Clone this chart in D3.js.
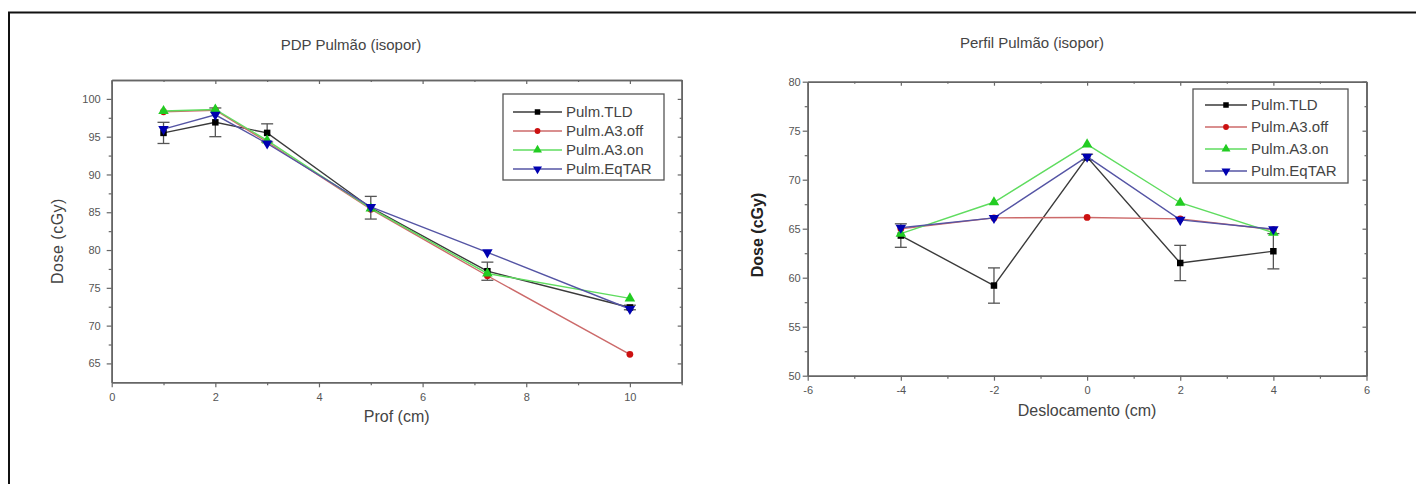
<!DOCTYPE html>
<html>
<head>
<meta charset="utf-8">
<script src="https://cdn.jsdelivr.net/npm/d3@7"></script>
<style>
  body { margin: 0; background: #fff; }
  text { font-family: "Liberation Sans", Arial, sans-serif; }
</style>
</head>
<body>
<script>
// series names shared by both panels
const seriesNames = ['Pulm.TLD', 'Pulm.A3.off', 'Pulm.A3.on', 'Pulm.EqTAR'];

// PDP panel (depth)
const profX = [1, 2, 3, 5, 7.25, 10];
const profTLD = [95.5, 96.9, 95.5, 85.6, 77.2, 72.4];
const profTLDErr = [1.4, 1.9, 1.2, 1.5, 1.2, 0.3];
const profA3off = [98.3, 98.5, 94.3, 85.4, 76.6, 66.2];
const profA3on = [98.4, 98.6, 94.5, 85.5, 76.9, 73.6];
const profEqTAR = [96.0, 97.9, 94.1, 85.7, 79.7, 72.2];
const profXTicks = [0, 2, 4, 6, 8, 10];
const profYTicks = [65, 70, 75, 80, 85, 90, 95, 100];

// Perfil panel (offset)
const deslX = [-4, -2, 0, 2, 4];
const deslTLD = [64.3, 59.2, 72.3, 61.5, 62.7];
const deslTLDErr = [1.2, 1.8, 0.3, 1.8, 1.8];
const deslA3off = [65.0, 66.1, 66.15, 66.0, 64.9];
const deslA3on = [64.5, 67.7, 73.6, 67.65, 64.6];
const deslEqTAR = [65.1, 66.1, 72.35, 65.9, 64.95];
const deslXTicks = [-6, -4, -2, 0, 2, 4, 6];
const deslYTicks = [50, 55, 60, 65, 70, 75, 80];

const styles = [
    { line: '#3a3a3a', fill: '#000', marker: 'square' },
    { line: '#cc6a6a', fill: '#cc1111', marker: 'circle' },
    { line: '#5fdc5f', fill: '#22cc22', marker: 'up' },
    { line: '#5454a4', fill: '#0000b0', marker: 'down' }
];

const svg = d3.select('body').append('svg')
    .attr('width', 1416)
    .attr('height', 484);

svg.append('rect').attr('width', 1416).attr('height', 484).attr('fill', '#fff');

// outer frame
svg.append('path')
    .attr('d', 'M9,484 L9,12.5 L1416,12.5')
    .attr('fill', 'none')
    .attr('stroke', '#111')
    .attr('stroke-width', 2);

function symbolFor(kind) {
    if (kind === 'square') return d3.symbol(d3.symbolSquare, 42)();
    if (kind === 'circle') return d3.symbol(d3.symbolCircle, 36)();
    return d3.symbol(d3.symbolTriangle, 48)();
}

// plain hyphen for negatives, like the original
const tickFmt = d => String(d);

function drawPanel(p) {
    const x = d3.scaleLinear().domain(p.xDomain).range([p.left, p.right]);
    const y = d3.scaleLinear().domain(p.yDomain).range([p.bottom, p.top]);
    const g = svg.append('g');

    const axisColor = '#666';
    const styleAxis = sel => {
        sel.select('.domain').attr('stroke', axisColor).attr('stroke-width', 1.6);
        sel.selectAll('.tick line').attr('stroke', axisColor).attr('stroke-width', 1.2);
        sel.selectAll('.tick text').attr('fill', '#555')
            .style('font-size', '11px')
            .style('font-family', '"Liberation Sans", Arial, sans-serif');
    };

    // bottom axis, major + minor
    g.append('g').attr('transform', `translate(0,${p.bottom})`)
        .call(d3.axisBottom(x).tickValues(p.xTicks).tickFormat(tickFmt).tickSize(5).tickPadding(6).tickSizeOuter(0))
        .call(styleAxis);
    g.append('g').attr('transform', `translate(0,${p.bottom})`)
        .call(d3.axisBottom(x).tickValues(p.xMinor).tickSize(3).tickFormat('').tickSizeOuter(0))
        .call(styleAxis);
    // top mirror
    g.append('g').attr('transform', `translate(0,${p.top})`)
        .call(d3.axisBottom(x).tickValues(p.xTicks).tickSize(4).tickFormat('').tickSizeOuter(0))
        .call(styleAxis);
    g.append('g').attr('transform', `translate(0,${p.top})`)
        .call(d3.axisTop(x).tickValues(p.xMinor).tickSize(-2).tickFormat('').tickSizeOuter(0))
        .call(styleAxis);

    // left axis
    g.append('g').attr('transform', `translate(${p.left},0)`)
        .call(d3.axisLeft(y).tickValues(p.yTicks).tickFormat(tickFmt).tickSize(5).tickPadding(p.yPad).tickSizeOuter(0))
        .call(styleAxis);
    g.append('g').attr('transform', `translate(${p.left},0)`)
        .call(d3.axisLeft(y).tickValues(p.yMinor).tickSize(3).tickFormat('').tickSizeOuter(0))
        .call(styleAxis);
    // right mirror
    g.append('g').attr('transform', `translate(${p.right},0)`)
        .call(d3.axisLeft(y).tickValues(p.yTicks).tickSize(4).tickFormat('').tickSizeOuter(0))
        .call(styleAxis);
    g.append('g').attr('transform', `translate(${p.right},0)`)
        .call(d3.axisLeft(y).tickValues(p.yMinor).tickSize(2).tickFormat('').tickSizeOuter(0))
        .call(styleAxis);

    // titles
    g.append('text')
        .attr('x', p.titleX).attr('y', p.titleY)
        .attr('text-anchor', 'middle')
        .attr('fill', '#444')
        .style('font-size', '15px')
        .text(p.title);
    g.append('text')
        .attr('x', (p.left + p.right) / 2).attr('y', p.bottom + 40)
        .attr('text-anchor', 'middle')
        .attr('fill', '#444')
        .style('font-size', '16px')
        .text(p.xLabel);
    g.append('text')
        .attr('transform', `translate(${p.yLabelX},${p.yLabelY}) rotate(-90)`)
        .attr('text-anchor', 'middle')
        .attr('fill', p.yBold ? '#222' : '#444')
        .style('font-size', '16px')
        .style('font-weight', p.yBold ? 'bold' : 'normal')
        .style('letter-spacing', p.yBold ? '0px' : '0.5px')
        .text(p.yLabel);

    // error bars for TLD
    const cap = 6;
    const err = g.append('g').attr('stroke', '#555').attr('stroke-width', 1.3);
    p.xs.forEach((xv, i) => {
        const v = p.series[0][i], e = p.err[i];
        err.append('line').attr('x1', x(xv)).attr('x2', x(xv)).attr('y1', y(v - e)).attr('y2', y(v + e));
        err.append('line').attr('x1', x(xv) - cap).attr('x2', x(xv) + cap).attr('y1', y(v - e)).attr('y2', y(v - e));
        err.append('line').attr('x1', x(xv) - cap).attr('x2', x(xv) + cap).attr('y1', y(v + e)).attr('y2', y(v + e));
    });

    const line = d3.line().x(d => x(d[0])).y(d => y(d[1]));
    p.series.forEach((vals, si) => {
        const pts = p.xs.map((xv, i) => [xv, vals[i]]);
        const st = styles[si];
        g.append('path')
            .attr('d', line(pts))
            .attr('fill', 'none')
            .attr('stroke', st.line)
            .attr('stroke-width', 1.4);
        g.selectAll(null).data(pts).join('path')
            .attr('d', symbolFor(st.marker))
            .attr('transform', d => `translate(${x(d[0])},${y(d[1])})${st.marker === 'down' ? ' rotate(180)' : ''}`)
            .attr('fill', st.fill);
    });

    // legend
    const lg = g.append('g');
    lg.append('rect')
        .attr('x', p.legend.x).attr('y', p.legend.y)
        .attr('width', p.legend.w).attr('height', p.legend.h)
        .attr('fill', '#fff')
        .attr('stroke', '#555')
        .attr('stroke-width', 1.3);
    seriesNames.forEach((name, si) => {
        const st = styles[si];
        const cy = p.legend.y + p.legend.first + si * p.legend.step;
        const x0 = p.legend.x + p.legend.lineStart;
        const x1 = x0 + p.legend.lineLen;
        lg.append('line')
            .attr('x1', x0).attr('x2', x1).attr('y1', cy).attr('y2', cy)
            .attr('stroke', st.line).attr('stroke-width', 1.4);
        lg.append('path')
            .attr('d', symbolFor(st.marker))
            .attr('transform', `translate(${(x0 + x1) / 2},${cy})${st.marker === 'down' ? ' rotate(180)' : ''} scale(0.85)`)
            .attr('fill', st.fill);
        lg.append('text')
            .attr('x', x1 + 4).attr('y', cy + 5)
            .attr('fill', '#444')
            .style('font-size', '15px')
            .text(name);
    });
}

drawPanel({
    left: 111.7, right: 681.7, top: 80, bottom: 382.3,
    xDomain: [0, 11], yDomain: [62.5, 102.5],
    xTicks: profXTicks, xMinor: [1, 3, 5, 7, 9, 11],
    yTicks: profYTicks, yMinor: [67.5, 72.5, 77.5, 82.5, 87.5, 92.5, 97.5],
    yPad: 6,
    title: 'PDP Pulmão (isopor)', titleX: 351, titleY: 50,
    xLabel: 'Prof (cm)',
    yLabel: 'Dose (cGy)', yLabelX: 63, yLabelY: 241, yBold: false,
    xs: profX,
    series: [profTLD, profA3off, profA3on, profEqTAR],
    err: profTLDErr,
    legend: { x: 503, y: 94, w: 161, h: 86, first: 18, step: 19, lineStart: 10, lineLen: 49 }
});

drawPanel({
    left: 807.7, right: 1366.5, top: 81.7, bottom: 375.7,
    xDomain: [-6, 6], yDomain: [50, 80],
    xTicks: deslXTicks, xMinor: [-5, -3, -1, 1, 3, 5],
    yTicks: deslYTicks, yMinor: [52.5, 57.5, 62.5, 67.5, 72.5, 77.5],
    yPad: 2,
    title: 'Perfil Pulmão (isopor)', titleX: 1032, titleY: 48,
    xLabel: 'Deslocamento (cm)',
    yLabel: 'Dose (cGy)', yLabelX: 763, yLabelY: 235, yBold: true,
    xs: deslX,
    series: [deslTLD, deslA3off, deslA3on, deslEqTAR],
    err: deslTLDErr,
    legend: { x: 1193, y: 89, w: 155, h: 94, first: 16, step: 22, lineStart: 12, lineLen: 42 }
});
</script>
</body>
</html>
